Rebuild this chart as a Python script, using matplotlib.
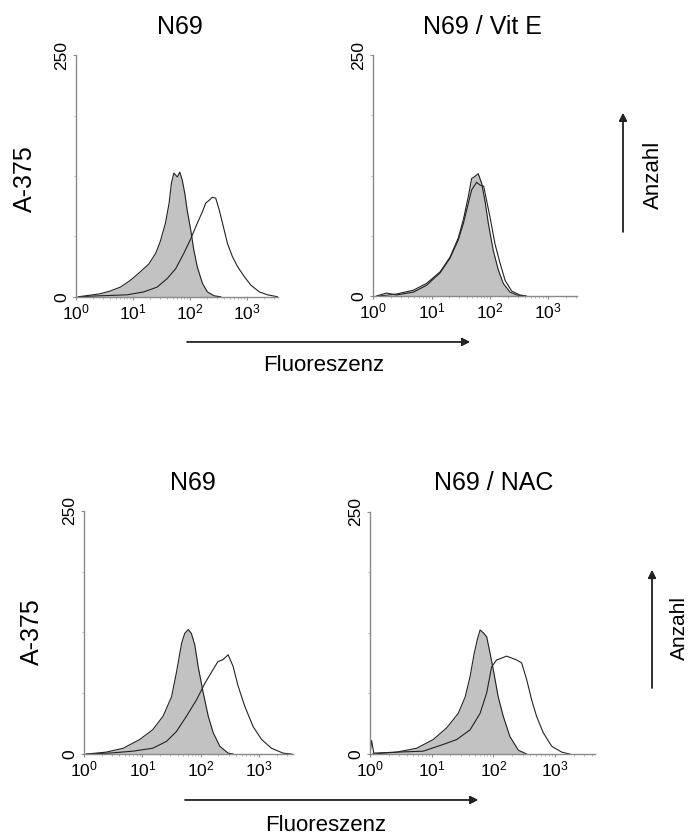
import matplotlib.pyplot as plt
from matplotlib.ticker import FixedLocator, LogLocator, NullFormatter

plt.rcParams['font.family'] = ['Liberation Sans', 'DejaVu Sans']
plt.rcParams['mathtext.default'] = 'regular'

# ---- data (fluorescence, cell count) ----
# top left: N69
n69a_ctrl_x = [1.1, 2.6, 4.0, 6.0, 9.0, 13.5, 19, 25, 30, 37, 43, 47, 52, 60, 66, 73, 81, 89, 103, 117, 134, 165, 202, 265, 347]
n69a_ctrl_y = [0, 3, 6, 10, 17, 26, 34, 45, 57, 76, 97, 117, 128, 124, 129, 121, 107, 90, 69, 48, 31, 14, 5, 1, 0]
n69a_trt_x = [1.1, 2.6, 7.8, 15.4, 26.5, 40, 56, 78, 103, 134, 165, 189, 218, 247, 283, 325, 372, 455, 560, 686, 893, 1170, 1650, 2300, 3460]
n69a_trt_y = [0, 1, 2, 5, 10, 19, 29, 45, 60, 76, 88, 97, 100, 103, 102, 90, 76, 55, 41, 31, 21, 12, 5, 2, 0]

# top right: N69 / Vit E
vite_ctrl_x = [1.3, 2.5, 4.9, 8.2, 14, 20.6, 28.6, 35, 42.5, 48.6, 55, 63, 72, 82, 94, 114, 139, 169, 220, 287, 380]
vite_ctrl_y = [0, 2, 6, 13, 25, 40, 60, 79, 103, 122, 124, 127, 117, 99, 75, 47, 27, 13, 4, 1, 0]
vite_trt_x = [1.14, 1.7, 2.5, 4.9, 8.2, 14, 20.6, 28.6, 35, 42.5, 48.6, 59, 68, 78, 87, 100, 122, 149, 182, 236, 324, 420]
vite_trt_y = [0, 3, 1, 4, 11, 24, 39, 58, 75, 96, 110, 118, 115, 114, 100, 82, 54, 34, 16, 5, 1, 0]

# bottom left: N69
n69b_ctrl_x = [1.1, 2.4, 4.7, 9, 15, 22.6, 31.6, 38, 47, 53, 61, 69, 79, 90, 110, 134, 163, 212, 294, 360]
n69b_ctrl_y = [0, 2, 6, 15, 25, 39, 59, 83, 114, 124, 128, 124, 112, 90, 63, 39, 22, 8, 1, 0]
n69b_trt_x = [1.1, 2.75, 6.9, 15, 25.8, 38, 57, 85, 118, 163, 196, 239, 294, 358, 435, 567, 790, 1100, 1620, 2560, 3600]
n69b_trt_y = [0, 1, 3, 6, 13, 23, 39, 56, 73, 87, 95, 97, 102, 90, 70, 49, 28, 15, 6, 1, 0]

# bottom right: N69 / NAC
nac_ctrl_x = [1.1, 2.7, 5.7, 10.6, 17.5, 27, 35, 42, 49, 55, 61, 69, 78, 86, 100, 120, 145, 186, 255, 347]
nac_ctrl_y = [0, 2, 6, 15, 27, 42, 59, 80, 104, 118, 128, 125, 121, 108, 87, 59, 39, 18, 4, 0]
nac_trt_x = [1.0, 1.06, 1.15, 2.7, 7.3, 15.5, 25.5, 42, 61, 78, 94, 113, 137, 165, 199, 240, 288, 347, 418, 503, 646, 887, 1290, 1740]
nac_trt_y = [0, 14, 1, 2, 3, 10, 15, 25, 42, 63, 90, 97, 99, 101, 99, 97, 94, 77, 56, 39, 22, 8, 2, 0]

titles = ['N69', 'N69 / Vit E', 'N69', 'N69 / NAC']
xticks = [1, 10, 100, 1000]
xtick_labels = [r'$10^0$', r'$10^1$', r'$10^2$', r'$10^3$']
ymax = 250

panels = [
    (n69a_ctrl_x, n69a_ctrl_y, n69a_trt_x, n69a_trt_y),
    (vite_ctrl_x, vite_ctrl_y, vite_trt_x, vite_trt_y),
    (n69b_ctrl_x, n69b_ctrl_y, n69b_trt_x, n69b_trt_y),
    (nac_ctrl_x, nac_ctrl_y, nac_trt_x, nac_trt_y),
]
# axes rectangles (left, bottom, width, height) and right x-limit exponent
rects = [
    ([0.110, 0.645, 0.292, 0.289], 3.54),
    ([0.540, 0.646, 0.295, 0.288], 3.49),
    ([0.1216, 0.098, 0.3025, 0.291], 3.58),
    ([0.5355, 0.098, 0.3256, 0.290], 3.65),
]
title_pos = [(0.2605, 0.9677), (0.6975, 0.9677), (0.279, 0.4222), (0.715, 0.4222)]

fig = plt.figure(figsize=(6.91, 8.36), dpi=100)

for (cx, cy, tx, ty), (rect, xmax), title, tpos in zip(panels, rects, titles, title_pos):
    ax = fig.add_axes(rect)
    ax.fill_between(cx, cy, color='#c2c2c2', lw=0)
    ax.plot(cx, cy, color='#222222', lw=0.8)
    ax.plot(tx, ty, color='#222222', lw=0.8)
    ax.set_xscale('log')
    ax.set_xlim(1, 10 ** xmax)
    ax.set_ylim(0, ymax)
    for s in ['top', 'right']:
        ax.spines[s].set_visible(False)
    for s in ['left', 'bottom']:
        ax.spines[s].set_color('#8a8a8a')
        ax.spines[s].set_linewidth(1.0)
    ax.set_xticks(xticks)
    ax.set_xticklabels(xtick_labels)
    ax.xaxis.set_minor_locator(LogLocator(base=10, subs=range(2, 10), numticks=20))
    ax.xaxis.set_minor_formatter(NullFormatter())
    ax.set_yticks([0, ymax])
    ax.set_yticklabels(['0', str(ymax)])
    ax.yaxis.set_minor_locator(FixedLocator([62.5, 125, 187.5]))
    ax.tick_params(axis='x', which='major', length=2, color='#8a8a8a', labelsize=12.5, pad=2)
    ax.tick_params(axis='x', which='minor', length=1.5, color='#aaaaaa')
    ax.tick_params(axis='y', which='major', length=2, color='#8a8a8a', labelsize=12.5,
                   labelrotation=90, pad=3)
    ax.tick_params(axis='y', which='minor', length=1.5, color='#aaaaaa')
    for lab in ax.get_yticklabels():
        lab.set_va('center')
    fig.text(tpos[0], tpos[1], title, ha='center', va='center', fontsize=18)

# row labels
fig.text(0.036, 0.786, 'A-375', rotation=90, ha='center', va='center', fontsize=18)
fig.text(0.046, 0.244, 'A-375', rotation=90, ha='center', va='center', fontsize=18)

arrow = dict(arrowstyle='-|>', color='#222222', lw=1.0, mutation_scale=12, shrinkA=0, shrinkB=0)

# Fluoreszenz arrows
fig.add_artist(plt.annotate('', xy=(0.680, 0.591), xytext=(0.2706, 0.591),
                            xycoords='figure fraction', arrowprops=arrow))
fig.text(0.468, 0.563, 'Fluoreszenz', ha='center', va='center', fontsize=16)
fig.add_artist(plt.annotate('', xy=(0.6918, 0.0431), xytext=(0.2677, 0.0431),
                            xycoords='figure fraction', arrowprops=arrow))
fig.text(0.472, 0.013, 'Fluoreszenz', ha='center', va='center', fontsize=16)

# Anzahl arrows
fig.add_artist(plt.annotate('', xy=(0.9016, 0.8648), xytext=(0.9016, 0.7225),
                            xycoords='figure fraction', arrowprops=arrow))
fig.text(0.945, 0.7907, 'Anzahl', rotation=90, ha='center', va='center', fontsize=16)
fig.add_artist(plt.annotate('', xy=(0.9436, 0.318), xytext=(0.9436, 0.177),
                            xycoords='figure fraction', arrowprops=arrow))
fig.text(0.984, 0.249, 'Anzahl', rotation=90, ha='center', va='center', fontsize=15)

plt.savefig('out.png', dpi=100)
